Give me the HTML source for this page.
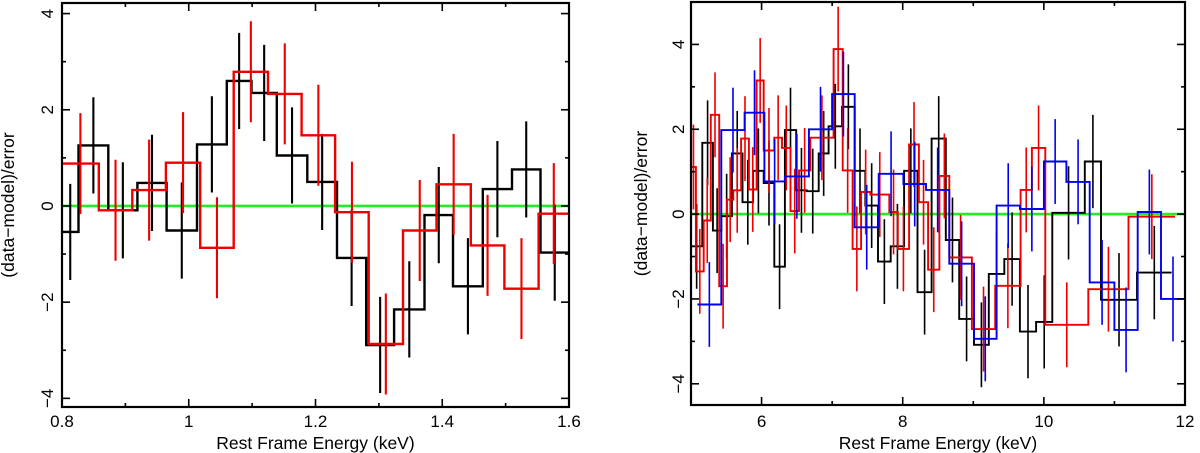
<!DOCTYPE html>
<html><head><meta charset="utf-8"><style>
html,body{margin:0;padding:0;background:#fff;width:1200px;height:453px;overflow:hidden}
svg text{font-family:"Liberation Sans",sans-serif;fill:#000}
</style></head><body>
<svg id="svg" width="1200" height="453" viewBox="0 0 1200 453" xmlns="http://www.w3.org/2000/svg"></svg>
<script>
// ---- Left panel data ----
const L_blackEdges=[0.8,0.826,0.873,0.919,0.965,1.013,1.060,1.099,1.139,1.187,1.234,1.280,1.324,1.372,1.417,1.464,1.510,1.555,1.6];
const L_blackVals=[-0.54,1.26,-0.09,0.48,-0.51,1.28,2.6,2.35,1.05,0.5,-1.08,-2.89,-2.15,-0.19,-1.67,0.35,0.76,-0.97];
const L_blackErr=[1.0,1.0,1.0,1.0,1.0,1.0,1.0,1.0,1.0,1.0,1.0,1.0,1.0,1.0,1.0,1.0,1.0,1.0];
const L_redEdges=[0.8,0.858,0.911,0.964,1.018,1.071,1.125,1.178,1.231,1.284,1.338,1.391,1.445,1.498,1.552,1.6];
const L_redVals=[0.88,-0.09,0.33,0.9,-0.87,2.79,2.33,1.47,-0.13,-2.87,-0.51,0.45,-0.82,-1.72,-0.16];
const L_redErr=[1.05,1.05,1.05,1.05,1.05,1.05,1.05,1.05,1.05,1.05,1.05,1.05,1.05,1.05,1.05];
const L_xTicks=["0.8","1","1.2","1.4","1.6"];
const L_yTicks=["−4","−2","0","2","4"];
// ---- Right panel data ----
const R_blackEdges=[5.00,5.16,5.31,5.43,5.58,5.73,5.88,6.03,6.18,6.33,6.49,6.64,6.81,6.95,7.14,7.32,7.47,7.65,7.83,8.02,8.21,8.41,8.61,8.80,9.01,9.22,9.44,9.66,9.89,10.12,10.58,10.81,11.32,11.81];
const R_blackVals=[-0.76,1.68,-0.39,-0.05,1.43,0.28,1.02,0.73,-1.24,1.98,0.56,0.54,1.43,2.07,2.53,1.02,0.2,-1.12,-0.76,1.02,-1.84,1.78,-0.61,-2.47,-3.08,-1.41,-1.06,-2.77,-2.54,0.03,1.24,-2.02,-1.38];
const R_blackErr=[1.0,1.0,1.0,1.0,1.0,1.0,1.0,1.0,1.0,1.0,1.0,1.0,1.0,1.0,1.0,1.0,1.0,1.0,1.0,1.0,1.0,1.0,1.0,1.0,1.0,1.0,1.1,1.1,1.1,1.1,1.1,1.1,1.1];
const R_redEdges=[5.00,5.07,5.18,5.28,5.40,5.51,5.60,5.71,5.82,5.93,6.03,6.18,6.29,6.41,6.53,6.69,7.02,7.15,7.29,7.41,7.54,7.81,7.93,8.09,8.23,8.36,8.52,8.66,8.98,9.31,9.67,9.83,10.02,10.63,11.20,11.86];
const R_redVals=[1.11,-1.35,-0.15,2.34,-1.7,0.34,0.56,1.78,0.58,3.15,1.5,1.8,1.56,0.07,1.03,1.8,3.89,1.03,-0.82,0.52,0.46,0.05,-0.82,1.64,0.28,-1.31,0.9,-1.02,-2.71,-1.69,0.57,1.56,-2.61,-1.77,-0.06];
const R_redErr=[1.0,1.0,1.0,1.0,1.0,1.0,1.0,1.0,1.0,1.0,1.0,1.0,1.0,1.0,1.0,1.0,1.0,1.0,1.0,1.0,1.0,1.0,1.0,1.0,1.0,1.0,1.0,1.0,1.0,1.0,1.0,1.0,1.0,1.0,1.0];
const R_blueEdges=[5.09,5.43,5.76,6.04,6.33,6.67,7.00,7.32,7.66,8.01,8.33,8.66,9.01,9.33,9.66,10.00,10.32,10.65,11.00,11.33,11.66,12.00];
const R_blueVals=[-2.13,1.98,2.39,0.77,0.89,2.0,2.83,-0.31,0.95,0.71,0.57,-1.17,-2.94,0.2,0.12,1.24,0.76,-1.61,-2.73,0.05,-2.0];
const R_blueErr=[1.0,1.0,1.0,1.0,1.0,1.0,1.0,1.0,1.0,1.0,1.0,1.0,1.0,1.0,1.0,1.0,1.0,1.0,1.0,1.0,1.0];
const R_xTicks=["6","8","10","12"];
const R_yTicks=["−4","−2","0","2","4"];

const NS="http://www.w3.org/2000/svg";
const svg=document.getElementById('svg');
function mk(tag,attrs,parent){const e=document.createElementNS(NS,tag);for(const k in attrs)e.setAttribute(k,attrs[k]);(parent||svg).appendChild(e);return e;}

function panel(p){
  const g=mk('g',{});
  
  
  const sx=v=>p.x0+(v-p.xmin)/(p.xmax-p.xmin)*(p.x1-p.x0);
  const sy=v=>p.y0+(p.ymax-v)/(p.ymax-p.ymin)*(p.y1-p.y0);
  const z=mk('line',{x1:p.x0,x2:p.x1,y1:sy(0),y2:sy(0),stroke:'#22ee22','stroke-width':2.6},g);
  
  
  p.series.forEach(s=>{
    let d='';
    s.vals.forEach((v,i)=>{
      const xa=sx(s.edges[i]),xb=sx(s.edges[i+1]),y=sy(v);
      d+=(i===0?'M':'L')+xa.toFixed(1)+','+y.toFixed(1)+'L'+xb.toFixed(1)+','+y.toFixed(1);
    });
    const path=mk('path',{d:d,fill:'none',stroke:s.color,'stroke-width':p.lw},g);
    
    
    s.vals.forEach((v,i)=>{
      const xc=sx((s.edges[i]+s.edges[i+1])/2);
      const eb=mk('line',{x1:xc,x2:xc,y1:sy(v+s.err[i]),y2:sy(v-s.err[i]),stroke:s.color,'stroke-width':p.lw-0.3},g);
      
      
    });
  });
  const fr=mk('rect',{x:p.x0,y:p.y0,width:p.x1-p.x0,height:p.y1-p.y0,fill:'none',stroke:'#000','stroke-width':2.2},g);
  
  
  for(let v=p.xmin;v<=p.xmax+1e-9;v+=p.xminor){
    const major=Math.abs(Math.round(v/p.xmajor)*p.xmajor-v)<1e-6;
    const len=major?8:4,x=sx(v);
    mk('line',{x1:x,x2:x,y1:p.y1,y2:p.y1-len,stroke:'#000','stroke-width':1.6},g);
    mk('line',{x1:x,x2:x,y1:p.y0,y2:p.y0+len,stroke:'#000','stroke-width':1.6},g);
  }
  p.xTicks.forEach(t=>{
    const tx=mk('text',{x:sx(parseFloat(t)),y:427,'text-anchor':'middle','font-size':17},g);
    tx.textContent=t;
    
    
  });
  for(let v=Math.ceil(p.ymin);v<=p.ymax+1e-9;v+=1){
    const major=v%2===0,len=major?8:4,y=sy(v);
    mk('line',{x1:p.x0,x2:p.x0+len,y1:y,y2:y,stroke:'#000','stroke-width':1.6},g);
    mk('line',{x1:p.x1,x2:p.x1-len,y1:y,y2:y,stroke:'#000','stroke-width':1.6},g);
  }
  p.yTicks.forEach(t=>{
    const v=parseFloat(t.replace('−','-'));
    const x=p.x0-p.tickOff,y=sy(v);
    const tx=mk('text',{x:x,y:y,'text-anchor':'middle','font-size':17,transform:`rotate(-90 ${x} ${y})`},g);
    tx.textContent=t;
    
    
  });
  const xt=mk('text',{x:(p.x0+p.x1)/2,y:449,'text-anchor':'middle','font-size':17.5},g);
  xt.textContent='Rest Frame Energy (keV)';
  
  
  const yx=p.x0-p.titleOff,yy=(p.y0+p.y1)/2;
  const yt=mk('text',{x:yx,y:yy,'text-anchor':'middle','font-size':17.5,transform:`rotate(-90 ${yx} ${yy})`},g);
  yt.textContent='(data−model)/error';
  
  
}

panel({name:'left-panel',x0:62,x1:569,y0:3,y1:407,xmin:0.8,xmax:1.6,ymin:-4.18,ymax:4.22,xmajor:0.2,xminor:0.1,
  tickOff:9,titleOff:48,lw:2.4,
  xTicks:L_xTicks,yTicks:L_yTicks,
  series:[{name:'black-spectrum',color:'#000',edges:L_blackEdges,vals:L_blackVals,err:L_blackErr},
          {name:'red-spectrum',color:'#ee0000',edges:L_redEdges,vals:L_redVals,err:L_redErr}]});
panel({name:'right-panel',x0:691,x1:1185,y0:2,y1:405,xmin:5,xmax:12,ymin:-4.5,ymax:5.0,xmajor:2,xminor:1,
  tickOff:7,titleOff:44,lw:1.9,
  xTicks:R_xTicks,yTicks:R_yTicks,
  series:[{name:'black-spectrum',color:'#000',edges:R_blackEdges,vals:R_blackVals,err:R_blackErr},
          {name:'red-spectrum',color:'#ee0000',edges:R_redEdges,vals:R_redVals,err:R_redErr},
          {name:'blue-spectrum',color:'#0000ee',edges:R_blueEdges,vals:R_blueVals,err:R_blueErr}]});
</script>
</body></html>
